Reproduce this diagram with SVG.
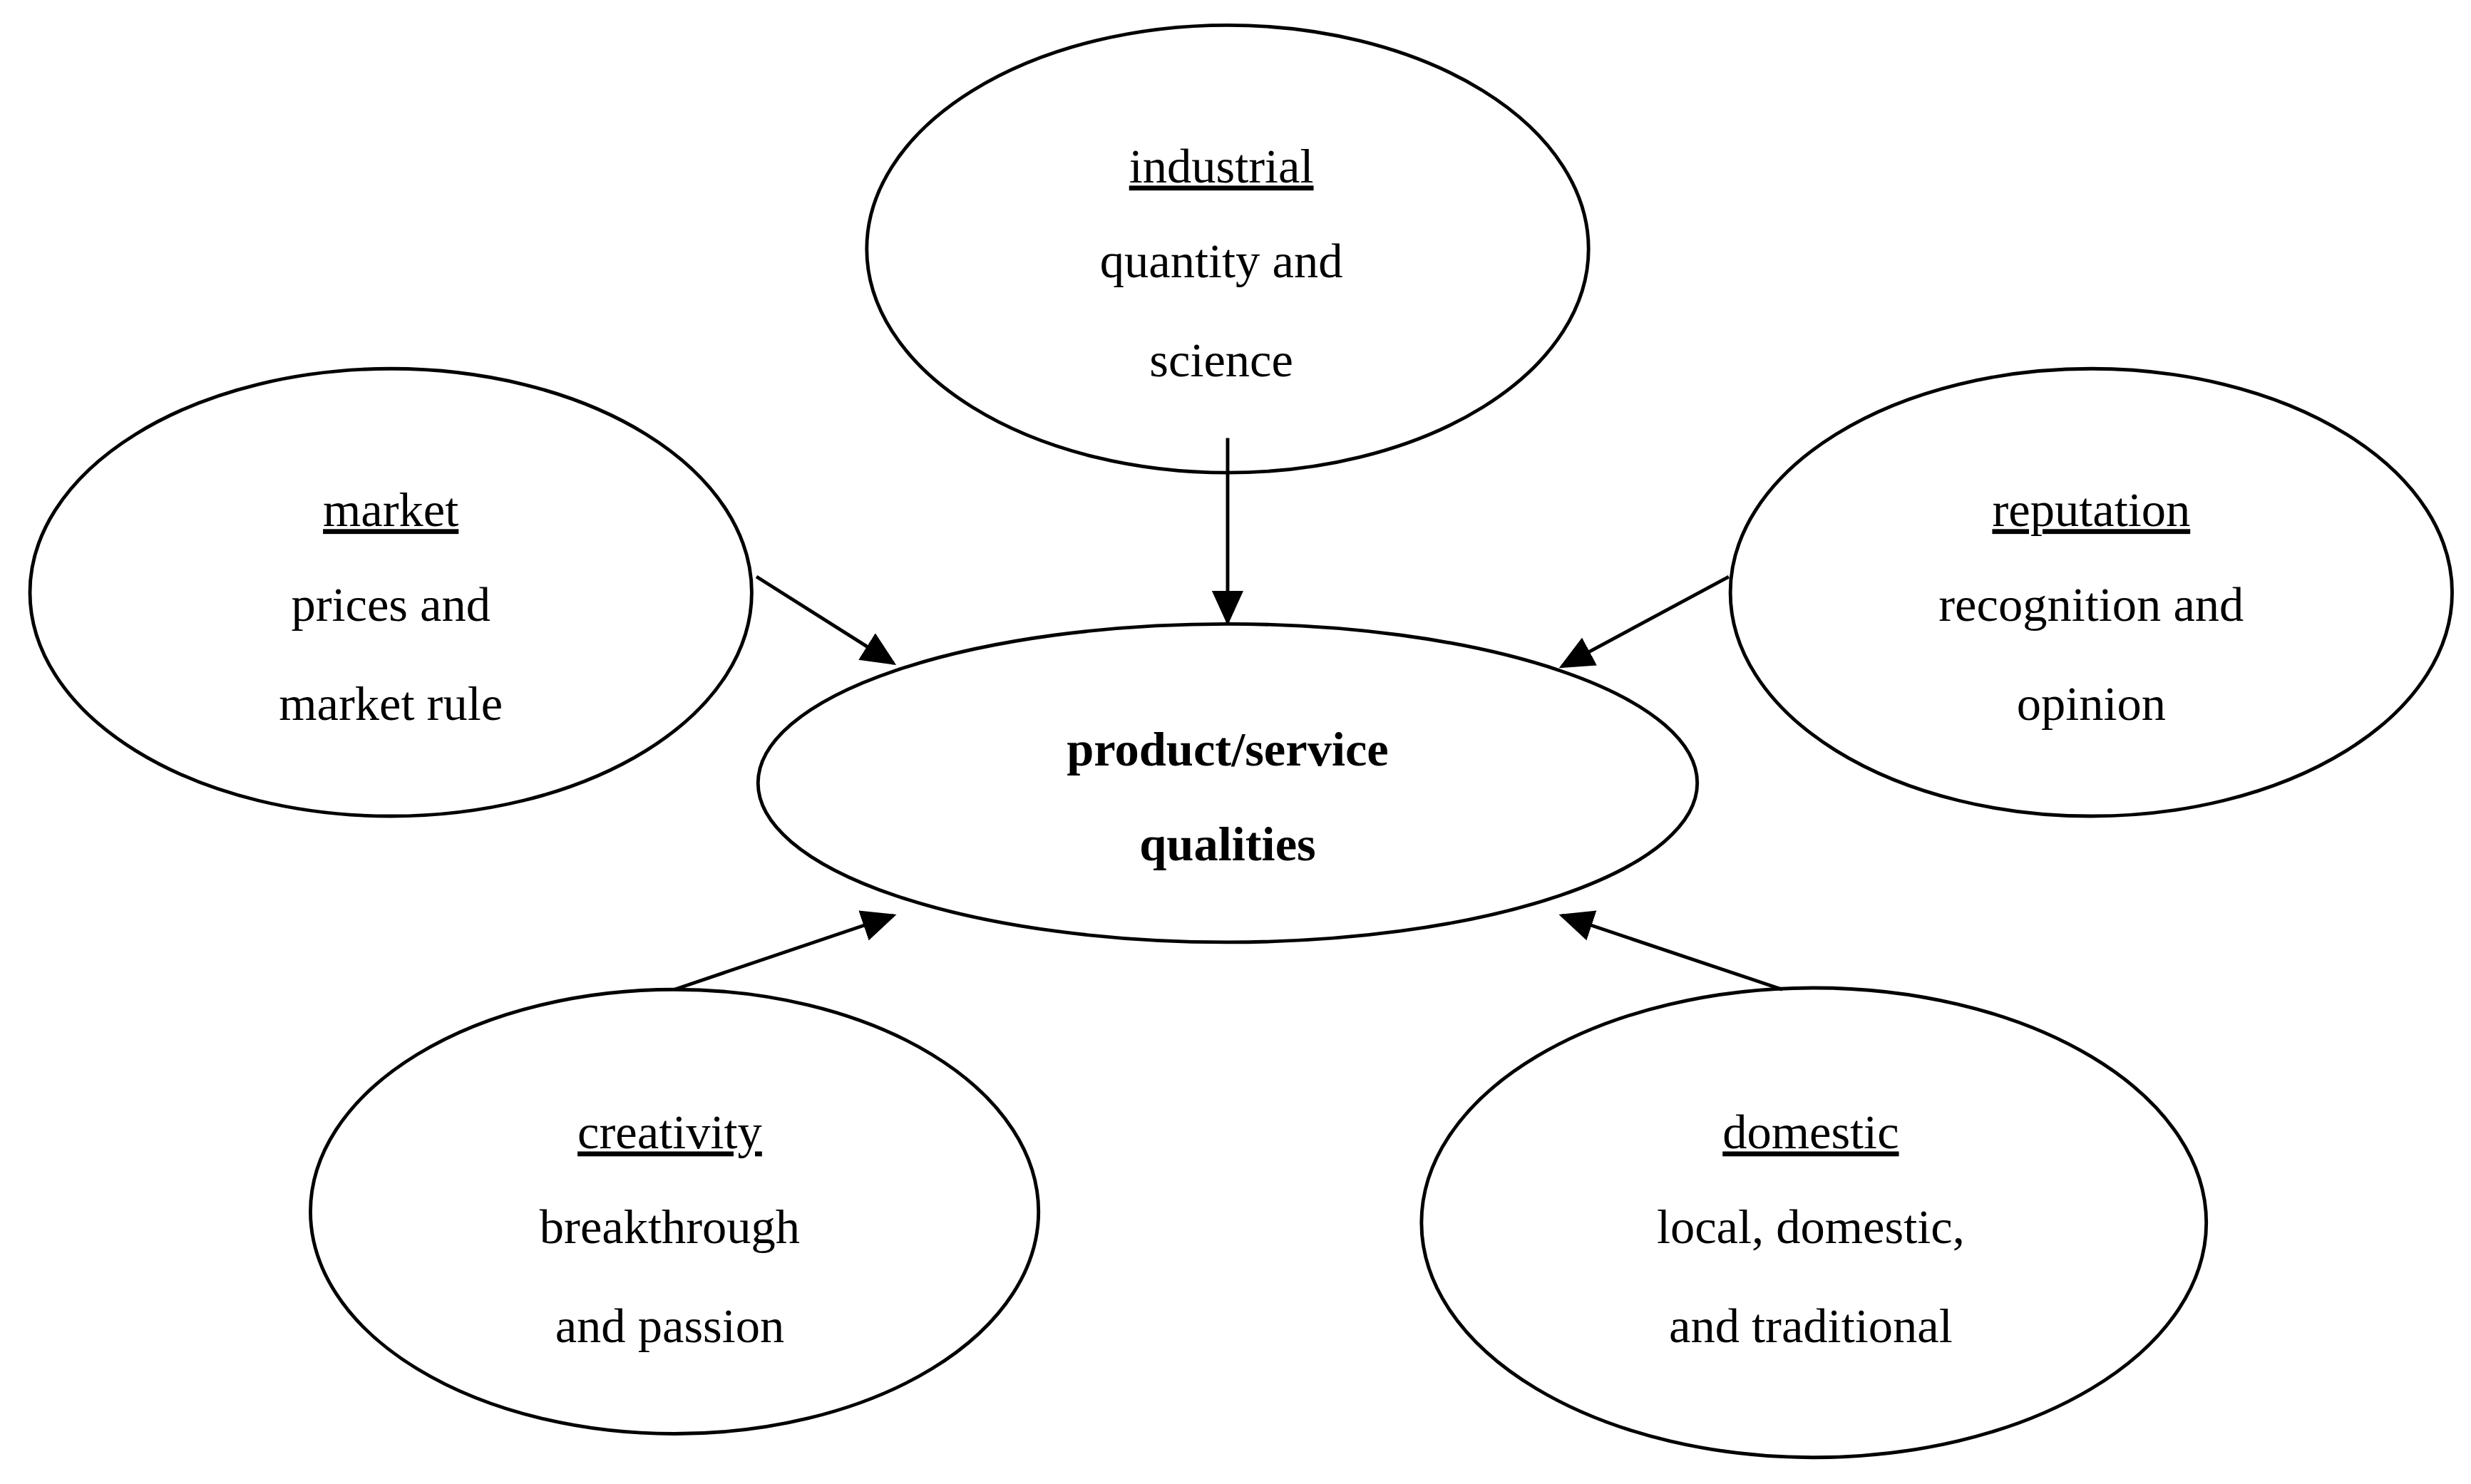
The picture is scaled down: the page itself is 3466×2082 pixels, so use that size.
<svg xmlns="http://www.w3.org/2000/svg" width="3466" height="2082" viewBox="0 0 3466 2082">
<style>
ellipse{fill:#fff;stroke:#000;stroke-width:2.2}
text{font-family:"Liberation Serif","DejaVu Serif",serif;font-size:31px;text-anchor:middle;fill:#000}
.t{text-decoration:underline}
.b{font-weight:bold}
line{stroke:#000;stroke-width:2.2}
</style>
<defs><marker id="a" markerWidth="10" markerHeight="10" refX="9" refY="5" orient="auto" markerUnits="userSpaceOnUse" viewBox="0 0 10 10"><path d="M0,0L10,5L0,10z" fill="#000" transform="scale(1)"/></marker>
<marker id="m" markerWidth="22" markerHeight="20" refX="20" refY="10" orient="auto" markerUnits="userSpaceOnUse"><path d="M0,0L22,10L0,20z" fill="#000"/></marker></defs>
<rect width="3466" height="2082" fill="#fff"/>
<g transform="scale(2.2105)">
<g id="center"><ellipse cx="779" cy="497" rx="298" ry="101"/><text class="b" x="779" y="486">product/service</text><text class="b" x="779" y="546">qualities</text></g>
<g id="industrial"><ellipse cx="779" cy="158" rx="229" ry="142"/><text class="t" x="775" y="116">industrial</text><text x="775" y="176">quantity and</text><text x="775" y="239">science</text></g>
<g id="market"><ellipse cx="248" cy="376" rx="229" ry="142"/><text class="t" x="248" y="334">market</text><text x="248" y="394">prices and</text><text x="248" y="457">market rule</text></g>
<g id="reputation"><ellipse cx="1327" cy="376" rx="229" ry="142"/><text class="t" x="1327" y="334">reputation</text><text x="1327" y="394">recognition and</text><text x="1327" y="457">opinion</text></g>
<g id="creativity"><ellipse cx="428" cy="769" rx="231" ry="141"/><text class="t" x="425" y="729">creativity</text><text x="425" y="789">breakthrough</text><text x="425" y="852">and passion</text></g>
<g id="domestic"><ellipse cx="1151" cy="776" rx="249" ry="149"/><text class="t" x="1149" y="729">domestic</text><text x="1149" y="789">local, domestic,</text><text x="1149" y="852">and traditional</text></g>
<g id="connectors">
<line x1="779" y1="278" x2="779" y2="395" marker-end="url(#m)" transform=""/>
<line x1="480" y1="366" x2="567" y2="421" marker-end="url(#m)"/>
<line x1="1097" y1="366" x2="991" y2="423" marker-end="url(#m)"/>
<line x1="428" y1="628" x2="567" y2="581" marker-end="url(#m)"/>
<line x1="1131" y1="628" x2="991" y2="581" marker-end="url(#m)"/>
</g>
</g>
</svg>
